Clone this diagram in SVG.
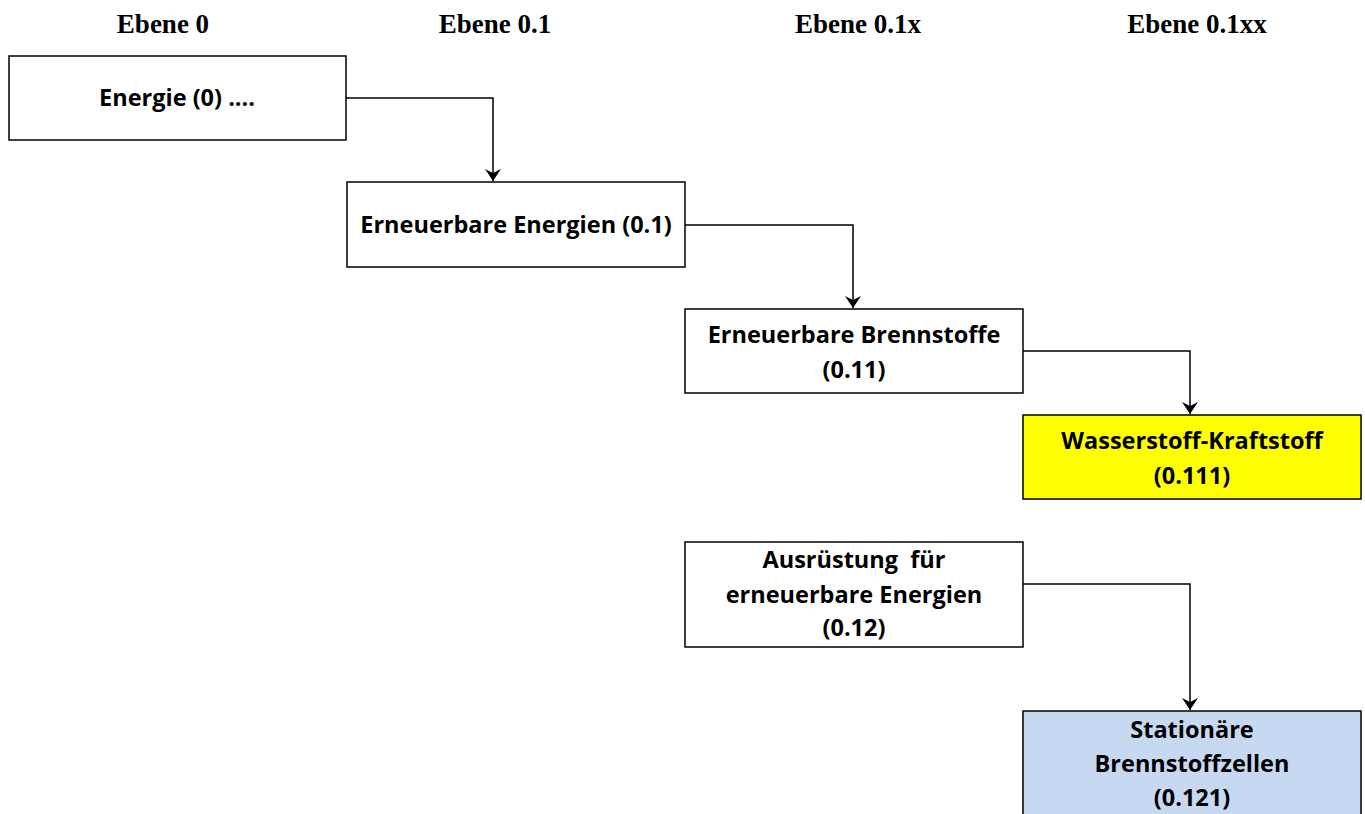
<svg xmlns="http://www.w3.org/2000/svg" width="1365" height="814" viewBox="0 0 1365 814">
<style>
.hdr{font-family:"Liberation Serif","Times New Roman",serif;font-weight:bold;font-size:27px;fill:#000;text-anchor:middle}
.box{stroke:#000;stroke-width:1.5;fill:#fff}
.lbl{font-family:"Open Sans","Liberation Sans",sans-serif;font-weight:bold;font-size:23.5px;fill:#000;text-anchor:middle;white-space:pre}
.conn{fill:none;stroke:#000;stroke-width:1.5}
</style>
<defs>
<marker id="arr" viewBox="0 0 12 16" refX="12" refY="8" markerWidth="12" markerHeight="16" markerUnits="userSpaceOnUse" orient="auto">
<path d="M0,0 L12,8 L0,16 L4,8 Z" fill="#000"/>
</marker>
</defs>
<g id="headers">
<text class="hdr" x="163" y="33">Ebene 0</text>
<text class="hdr" x="495" y="33">Ebene 0.1</text>
<text class="hdr" x="858" y="33">Ebene 0.1x</text>
<text class="hdr" x="1197" y="33">Ebene 0.1xx</text>
</g>
<g id="connectors">
<path class="conn" d="M346,98 H493 V181" marker-end="url(#arr)"/>
<path class="conn" d="M685,225 H853 V308" marker-end="url(#arr)"/>
<path class="conn" d="M1023,351 H1190 V414" marker-end="url(#arr)"/>
<path class="conn" d="M1023,584 H1190 V710" marker-end="url(#arr)"/>
</g>
<g id="n0">
<rect class="box" x="9" y="56" width="337" height="84"/>
<text class="lbl" x="177" y="106">Energie (0) ....</text>
</g>
<g id="n01">
<rect class="box" x="347" y="182" width="338" height="85"/>
<text class="lbl" x="516" y="233">Erneuerbare Energien (0.1)</text>
</g>
<g id="n011">
<rect class="box" x="685" y="309" width="338" height="84"/>
<text class="lbl" x="854" y="343">Erneuerbare Brennstoffe</text>
<text class="lbl" x="854" y="378">(0.11)</text>
</g>
<g id="n0111">
<rect class="box" x="1023" y="415" width="338" height="84" style="fill:#FFFF00"/>
<text class="lbl" x="1192" y="449">Wasserstoff-Kraftstoff</text>
<text class="lbl" x="1192" y="484">(0.111)</text>
</g>
<g id="n012">
<rect class="box" x="685" y="542" width="338" height="105"/>
<text class="lbl" x="854" y="568">Ausrüstung  für</text>
<text class="lbl" x="854" y="603">erneuerbare Energien</text>
<text class="lbl" x="854" y="636">(0.12)</text>
</g>
<g id="n0121">
<rect class="box" x="1023" y="711" width="338" height="110" style="fill:#C6D9F1"/>
<text class="lbl" x="1192" y="738">Stationäre</text>
<text class="lbl" x="1192" y="772">Brennstoffzellen</text>
<text class="lbl" x="1192" y="806">(0.121)</text>
</g>
</svg>
